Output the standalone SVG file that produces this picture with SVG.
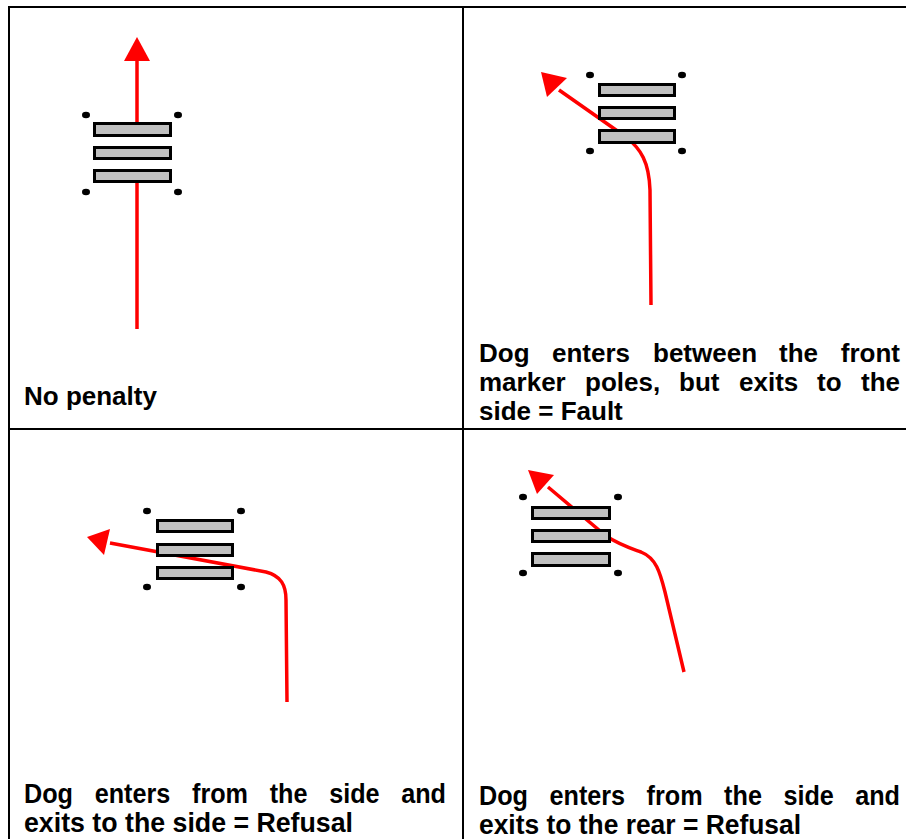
<svg xmlns="http://www.w3.org/2000/svg" width="906" height="839" viewBox="0 0 906 839">
<defs>
<style>
.grid{stroke:#000;stroke-width:2;fill:none}
.bar{fill:#c0c0c0;stroke:#000;stroke-width:3}
.pole{fill:#000}
.path{fill:none;stroke:#ff0000;stroke-width:3.5;stroke-linejoin:round;stroke-linecap:butt}
.head{fill:#ff0000}
.lbl{font-family:"Liberation Sans",Arial,sans-serif;font-weight:bold;font-size:26px;fill:#000}
.lbl2{font-family:"Liberation Sans",Arial,sans-serif;font-weight:bold;font-size:27px;fill:#000}
.e{text-anchor:end}
</style>
</defs>
<rect x="0" y="0" width="906" height="839" fill="#fff"/>
<g id="table">
<line class="grid" x1="8" y1="7" x2="906" y2="7"/>
<line class="grid" x1="9" y1="6" x2="9" y2="839"/>
<line class="grid" x1="463" y1="7" x2="463" y2="839"/>
<line class="grid" x1="9" y1="429" x2="906" y2="429"/>
</g>
<g id="connectors">
<line class="path" x1="137" y1="329" x2="137" y2="183"/>
<line class="path" x1="137" y1="122" x2="137" y2="58"/>
<polygon class="head" points="137,37 150,61 124,61"/>
<path class="path" d="M651,305 L650,190 C649,162 641,149 626,137 L559,90"/>
<polygon class="head" points="541,72 567,78 547,97"/>
<path class="path" d="M287,702 L286,600 C286,585 281,576 266,572 L110,543"/>
<polygon class="head" points="87,537 110,529 104,555"/>
<path class="path" d="M684,672 L665,592 C660,572 656,558 641,552 C630,548 620,545 606,536 L548,487"/>
<polygon class="head" points="528,470 554,475 537,494"/>
</g>
<g id="hurdle1">
<rect class="bar" x="94.5" y="123.5" width="76" height="12"/>
<rect class="bar" x="94.5" y="147.5" width="76" height="11"/>
<rect class="bar" x="94.5" y="170.5" width="76" height="11"/>
<ellipse class="pole" cx="86" cy="115" rx="4" ry="3.2"/>
<ellipse class="pole" cx="178" cy="115" rx="4" ry="3.2"/>
<ellipse class="pole" cx="86" cy="192" rx="4" ry="3.2"/>
<ellipse class="pole" cx="178" cy="192" rx="4" ry="3.2"/>
</g>
<g id="hurdle2">
<rect class="bar" x="599.5" y="84.5" width="75" height="11"/>
<rect class="bar" x="599.5" y="107.5" width="75" height="11"/>
<rect class="bar" x="599.5" y="130.5" width="75" height="12"/>
<ellipse class="pole" cx="590" cy="75" rx="4" ry="3.2"/>
<ellipse class="pole" cx="682" cy="75" rx="4" ry="3.2"/>
<ellipse class="pole" cx="590" cy="151" rx="4" ry="3.2"/>
<ellipse class="pole" cx="682" cy="151" rx="4" ry="3.2"/>
</g>
<g id="hurdle3">
<rect class="bar" x="157.5" y="520.5" width="75" height="11"/>
<rect class="bar" x="157.5" y="544.5" width="75" height="11"/>
<rect class="bar" x="157.5" y="567.5" width="75" height="11"/>
<ellipse class="pole" cx="147" cy="511" rx="4" ry="3.2"/>
<ellipse class="pole" cx="241" cy="511" rx="4" ry="3.2"/>
<ellipse class="pole" cx="147" cy="587" rx="4" ry="3.2"/>
<ellipse class="pole" cx="241" cy="587" rx="4" ry="3.2"/>
</g>
<g id="hurdle4">
<rect class="bar" x="532.5" y="507.5" width="77" height="11"/>
<rect class="bar" x="532.5" y="530.5" width="77" height="11"/>
<rect class="bar" x="532.5" y="553.5" width="77" height="12"/>
<ellipse class="pole" cx="523" cy="497" rx="4" ry="3.2"/>
<ellipse class="pole" cx="618" cy="497" rx="4" ry="3.2"/>
<ellipse class="pole" cx="523" cy="573" rx="4" ry="3.2"/>
<ellipse class="pole" cx="618" cy="573" rx="4" ry="3.2"/>
</g>
<g id="label1">
<text class="lbl" x="24" y="405">No penalty</text>
</g>
<g id="label2">
<text class="lbl" y="362"><tspan x="479">Dog</tspan><tspan x="552">enters</tspan><tspan x="653">between</tspan><tspan x="779">the</tspan></text>
<text class="lbl e" x="900" y="362">front</text>
<text class="lbl" y="391"><tspan x="479">marker</tspan><tspan x="585">poles,</tspan><tspan x="679">but</tspan><tspan x="739">exits</tspan><tspan x="817">to</tspan></text>
<text class="lbl e" x="900" y="391">the</text>
<text class="lbl" x="479" y="420">side = Fault</text>
</g>
<g id="label3">
<text class="lbl2" y="803"><tspan x="24" textLength="49" lengthAdjust="spacingAndGlyphs">Dog</tspan><tspan x="94.7" textLength="75.6" lengthAdjust="spacingAndGlyphs">enters</tspan><tspan x="192" textLength="56" lengthAdjust="spacingAndGlyphs">from</tspan><tspan x="269.7" textLength="37.8" lengthAdjust="spacingAndGlyphs">the</tspan><tspan x="329.2" textLength="50.4" lengthAdjust="spacingAndGlyphs">side</tspan><tspan x="401.2" textLength="44.8" lengthAdjust="spacingAndGlyphs">and</tspan></text>
<text class="lbl2" x="24" y="832" textLength="329" lengthAdjust="spacingAndGlyphs">exits to the side = Refusal</text>
</g>
<g id="label4">
<text class="lbl2" y="805"><tspan x="479" textLength="49" lengthAdjust="spacingAndGlyphs">Dog</tspan><tspan x="549.5" textLength="75.6" lengthAdjust="spacingAndGlyphs">enters</tspan><tspan x="646.6" textLength="56" lengthAdjust="spacingAndGlyphs">from</tspan><tspan x="724.1" textLength="37.8" lengthAdjust="spacingAndGlyphs">the</tspan><tspan x="783.4" textLength="50.4" lengthAdjust="spacingAndGlyphs">side</tspan><tspan x="855.2" textLength="44.8" lengthAdjust="spacingAndGlyphs">and</tspan></text>
<text class="lbl2" x="479" y="834" textLength="322" lengthAdjust="spacingAndGlyphs">exits to the rear = Refusal</text>
</g>
</svg>
